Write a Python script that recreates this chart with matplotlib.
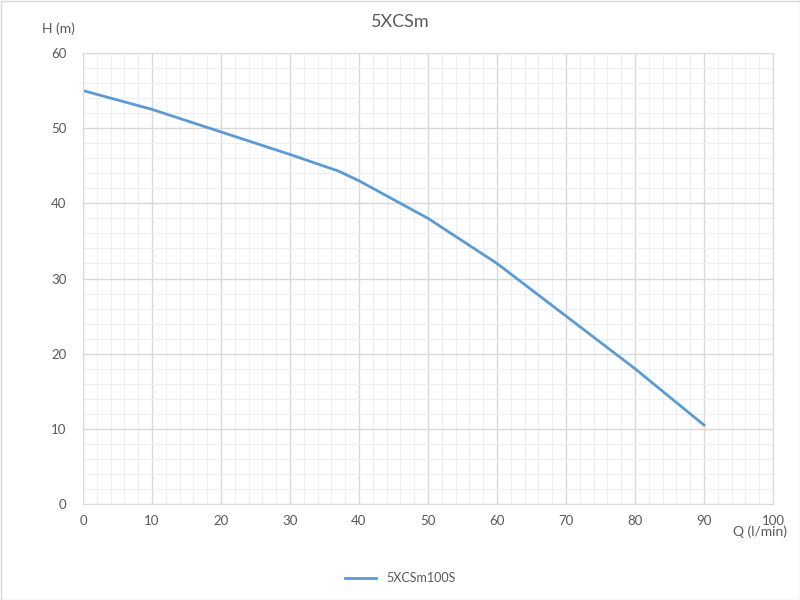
import matplotlib
matplotlib.use('Agg')
import matplotlib.pyplot as plt
from matplotlib.ticker import MultipleLocator
from matplotlib.patches import Rectangle

plt.rcParams['font.family'] = ['Lato', 'DejaVu Sans']

# pump curve 5XCSm100S
flow = [0, 10, 20, 30, 37, 40, 50, 60, 70, 80, 90]
head = [55, 52.5, 49.5, 46.5, 44.3, 43, 38, 32, 25, 18, 10.5]

title = '5XCSm'
series_name = '5XCSm100S'

fig = plt.figure(figsize=(8, 6), dpi=100)
ax = fig.add_axes([83/800, 1 - 504/600, 690/800, 451/600])

ax.plot(flow, head, color='#5b9bd5', lw=2, label=series_name)

ax.set_xlim(0, 100)
ax.set_ylim(0, 60)
ax.xaxis.set_major_locator(MultipleLocator(10))
ax.yaxis.set_major_locator(MultipleLocator(10))
ax.xaxis.set_minor_locator(MultipleLocator(2))
ax.yaxis.set_minor_locator(MultipleLocator(2))
ax.grid(which='major', color='#d9d9d9', lw=1)
ax.grid(which='minor', color='#efefef', lw=0.8)
ax.set_axisbelow(True)
for s in ax.spines.values():
    s.set_color('#d9d9d9')
ax.tick_params(which='both', length=0, colors='#595959', labelsize=9.5)
ax.tick_params(axis='x', pad=8)
ax.tick_params(axis='y', pad=12)

fig.text(0.5, 1 - 22/600, title, ha='center', va='center', fontsize=13, color='#595959')
fig.text(58/800, 1 - 29/600, 'H (m)', ha='center', va='center', fontsize=10, color='#595959')
fig.text(760/800, 1 - 532/600, 'Q (l/min)', ha='center', va='center', fontsize=10, color='#595959')

fig.legend(loc='center', bbox_to_anchor=(0.5, 1 - 578/600), frameon=False,
           fontsize=9, labelcolor='#595959', handlelength=2.5)

fig.patches.append(Rectangle((0.5/800, 0.5/600), 1 - 1/800, 1 - 1/600, transform=fig.transFigure,
                             fill=False, edgecolor='#d9d9d9', lw=1))

fig.savefig('out.png', dpi=100)
